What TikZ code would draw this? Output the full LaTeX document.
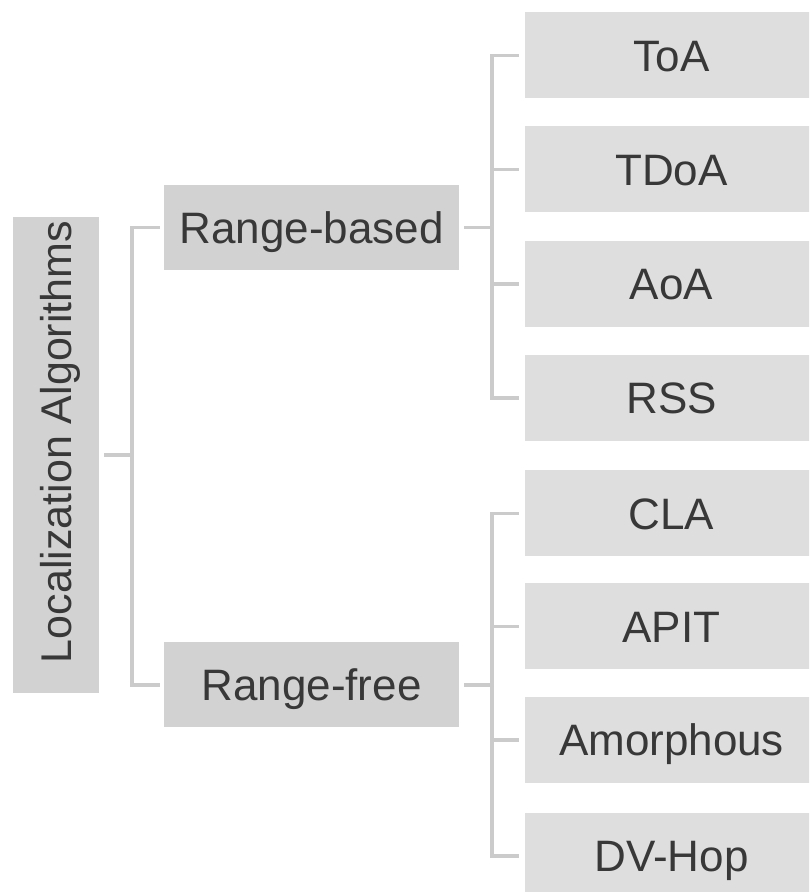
\documentclass[tikz,border=0pt]{standalone}
\usepackage{fontspec}
\setmainfont{Liberation Sans}
\definecolor{leaffill}{HTML}{DEDEDE}
\definecolor{midfill}{HTML}{D2D2D2}
\definecolor{linegray}{HTML}{CBCBCB}
\definecolor{txtgray}{HTML}{383838}
\begin{document}
\begin{tikzpicture}[x=1pt,y=1pt,
  box/.style={inner sep=0pt, text=txtgray, font=\fontsize{44}{50}\selectfont,
              text height=31.5pt, text depth=0pt},
  leafbox/.style={box, fill=leaffill, minimum width=293pt, minimum height=86pt},
  midbox/.style={box, fill=midfill, minimum width=295pt, minimum height=85pt},
  rootbox/.style={box, fill=midfill, rotate=90, minimum width=476pt, minimum height=86pt,
                  font=\fontsize{43}{50}\selectfont, text height=30.8pt},
  conn/.style={draw=linegray, line width=3.5pt}]
\clip (0,0) rectangle (809,892);
\fill[white] (0,0) rectangle (809,892);

\node[rootbox] (root) at (56,437) {\hspace*{26pt}Localization Algorithms};
\node[midbox] (rb) at (311.5,664.5) {Range-based};
\node[midbox] (rf) at (311.5,207) {Range-free};

\node[leafbox] (toa)  at (671.5,836.5) {ToA};
\node[leafbox] (tdoa) at (671.5,722.5) {TDoA};
\node[leafbox] (aoa)  at (671.5,608)   {AoA};
\node[leafbox] (rss)  at (671.5,494)   {RSS};
\node[leafbox] (cla)  at (671.5,378.5) {CLA};
\node[leafbox] (apit) at (671.5,265.5) {APIT};
\node[leafbox] (amor) at (671.5,152)   {Amorphous};
\node[leafbox] (dvh)  at (671.5,36)    {DV-Hop};

\coordinate (j1) at (132,437);
\coordinate (j2) at (492,664.5);
\coordinate (j3) at (492,207);

\draw[conn] ([xshift=5pt]root.south) -- (j1);
\draw[conn] ([xshift=-4pt]rb.west) -| (j1) |- ([xshift=-4pt]rf.west);

\draw[conn] ([xshift=5pt]rb.east) -- (j2);
\draw[conn] ([xshift=-6pt]toa.west) -| (j2) |- ([xshift=-6pt]rss.west);
\draw[conn] ([xshift=-6pt]tdoa.west) -- (tdoa.west -| j2);
\draw[conn] ([xshift=-6pt]aoa.west) -- (aoa.west -| j2);

\draw[conn] ([xshift=5pt]rf.east) -- (j3);
\draw[conn] ([xshift=-6pt]cla.west) -| (j3) |- ([xshift=-6pt]dvh.west);
\draw[conn] ([xshift=-6pt]apit.west) -- (apit.west -| j3);
\draw[conn] ([xshift=-6pt]amor.west) -- (amor.west -| j3);
\end{tikzpicture}
\end{document}
